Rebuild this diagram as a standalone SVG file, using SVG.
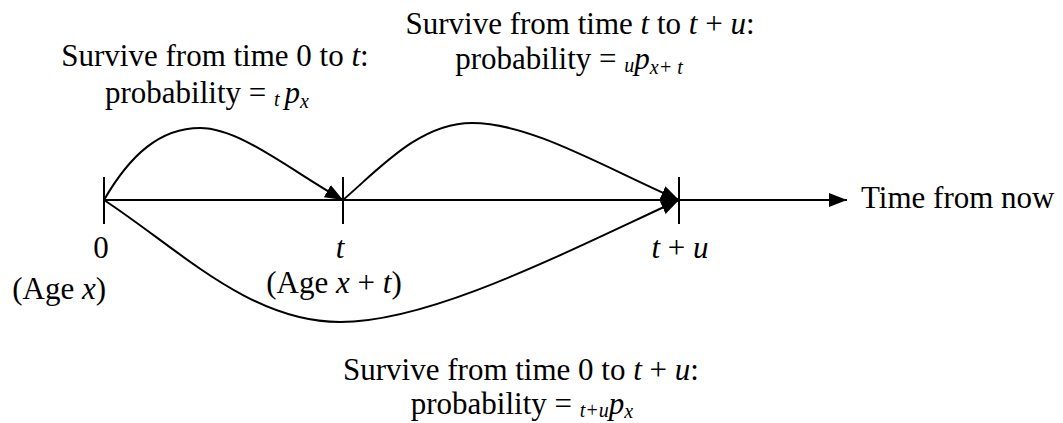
<svg xmlns="http://www.w3.org/2000/svg" width="1063" height="423" viewBox="0 0 1063 423">
<style>
.t{font-family:"Liberation Serif","Times New Roman",serif;font-size:31px;fill:#000}
.i{font-style:italic}
.s{font-size:20px}
.ln{stroke:#000;stroke-width:2;fill:none}
</style>
<defs>
<marker id="ah" markerUnits="userSpaceOnUse" markerWidth="20" markerHeight="16" refX="18" refY="7" orient="auto">
<path d="M0,0 L18,7 L0,14 Z" fill="#000"/>
</marker>
</defs>
<rect width="1063" height="423" fill="#fff"/>
<g id="axis">
<line class="ln" x1="104" y1="200" x2="847" y2="200" marker-end="url(#ah)"/>
<line class="ln" x1="104" y1="177" x2="104" y2="224"/>
<line class="ln" x1="343" y1="177" x2="343" y2="224"/>
<line class="ln" x1="679" y1="177" x2="679" y2="224"/>
</g>
<g id="connectors">
<path class="ln" d="M104,200 C130,155 160,128 200,128 C240,128 290,170 343,200" marker-end="url(#ah)"/>
<path class="ln" d="M343,200 C380,168 420,123 472,123 C530,123 600,165 679,200" marker-end="url(#ah)"/>
<path class="ln" d="M104,200 C180,250 250,322 340,322 C430,322 560,255 679,200" marker-end="url(#ah)"/>
</g>
<g id="label-top-left">
<text class="t" x="215" y="66" text-anchor="middle">Survive from time 0 to <tspan class="i">t</tspan>:</text>
<text class="t" x="207" y="103" text-anchor="middle">probability = <tspan class="i s" dy="3">t </tspan><tspan class="i" dy="-3">p</tspan><tspan class="i s" dy="5">x</tspan></text>
</g>
<g id="label-top-right">
<text class="t" x="580" y="34" text-anchor="middle">Survive from time <tspan class="i">t</tspan> to <tspan class="i">t</tspan> + <tspan class="i">u</tspan>:</text>
<text class="t" x="569" y="69" text-anchor="middle">probability = <tspan class="i s" dy="3">u</tspan><tspan class="i" dy="-3">p</tspan><tspan class="i s" dy="5">x+ t</tspan></text>
</g>
<g id="label-bottom">
<text class="t" x="521" y="380" text-anchor="middle">Survive from time 0 to <tspan class="i">t</tspan> + <tspan class="i">u</tspan>:</text>
<text class="t" x="522" y="414" text-anchor="middle">probability = <tspan class="i s" dy="3">t+u</tspan><tspan class="i" dy="-3">p</tspan><tspan class="i s" dy="4">x</tspan></text>
</g>
<g id="tick-0">
<text class="t" x="101" y="258" text-anchor="middle">0</text>
<text class="t" x="106" y="299" text-anchor="end">(Age <tspan class="i">x</tspan>)</text>
</g>
<g id="tick-t">
<text class="t i" x="340" y="258" text-anchor="middle">t</text>
<text class="t" x="334" y="293" text-anchor="middle">(Age <tspan class="i">x</tspan> + <tspan class="i">t</tspan>)</text>
</g>
<g id="tick-tu">
<text class="t" x="680" y="258" text-anchor="middle"><tspan class="i">t</tspan> + <tspan class="i">u</tspan></text>
</g>
<g id="axis-label">
<text class="t" x="861" y="208">Time from now</text>
</g>
</svg>
